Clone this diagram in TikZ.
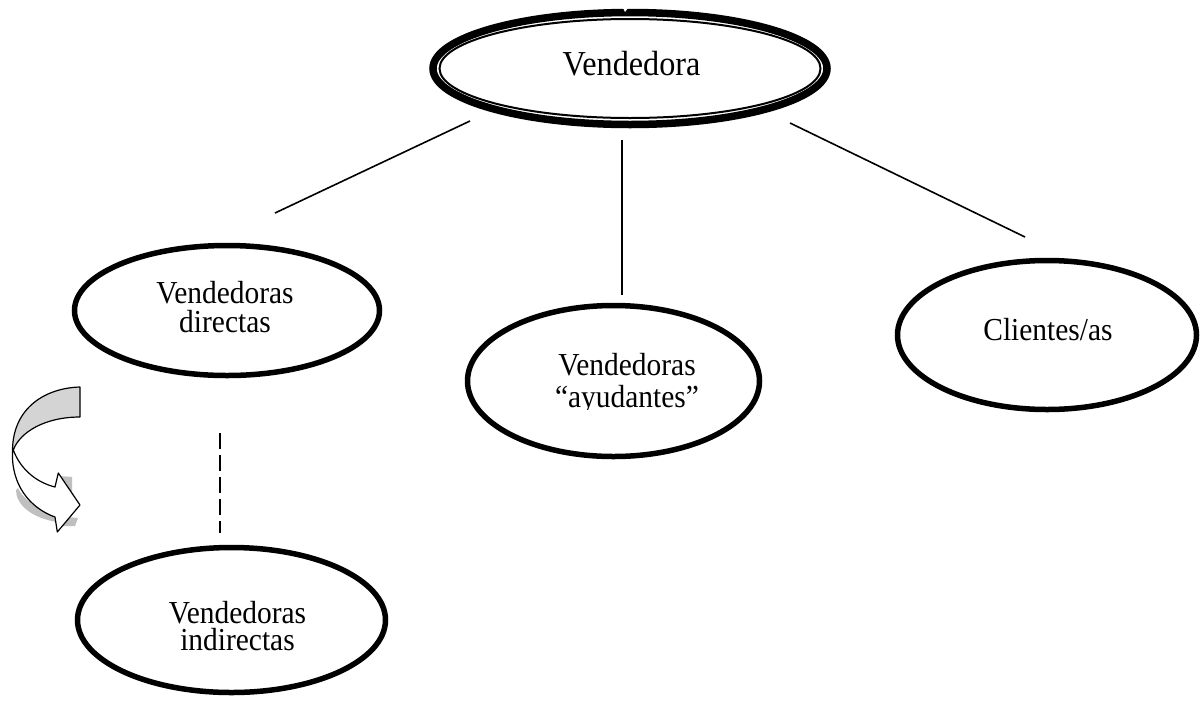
\documentclass[tikz,border=0pt]{standalone}
\usepackage{fontspec}
\setmainfont{Liberation Serif}[FakeStretch=0.92]
\usetikzlibrary{shapes.geometric}
\tikzset{
  oval/.style={draw, ellipse, line width=5.5pt, inner sep=0pt},
  txt/.style={font=\fontsize{32}{29}\selectfont, inner sep=0pt, anchor=base, align=center},
  link/.style={line width=1.6pt},
  dashlink/.style={line width=2pt, dash pattern=on 16pt off 6pt},
  backface/.style={fill=black!17, draw=black, line width=1.2pt, line join=round},
  frontface/.style={fill=white, draw=black, line width=1.2pt, line join=round},
  shade/.style={fill=black!25},
}
\begin{document}
\begin{tikzpicture}[x=1pt,y=-1pt]
\useasboundingbox (0,0) rectangle (1201,702);
\fill[white] (0,0) rectangle (1201,702);

% top node: thick-thin double outline
\node[oval, line width=7.5pt, minimum width=394pt, minimum height=112pt] (top) at (630,68.5) {};
\draw[line width=2pt] (top.center) ellipse [x radius=190.5pt, y radius=49.5pt];
\fill[white] (621,4) -- (631,4) -- (625,12) -- cycle;
\node[txt, font=\fontsize{35}{35}\selectfont] (top-t) at (631.5,75) {Vendedora};

% second level (base anchor = baseline of the last line)
\node[oval, minimum width=305pt, minimum height=130pt] (dir) at (227,310.5) {};
\node[txt] (dir-t) at (225,332) {Vendedoras\\directas};

\node[oval, minimum width=292pt, minimum height=151pt] (ayu) at (613.5,381) {};
\begin{scope}
  \clip (400,300) rectangle (800,409);
  \node[txt, font=\fontsize{32}{32}\selectfont] (ayu-t) at (627,407) {Vendedoras\\“ayudantes”};
\end{scope}

\node[oval, minimum width=299pt, minimum height=149pt] (cli) at (1047,335) {};
\node[txt] (cli-t) at (1048,340) {Clientes/as};

% third level
\node[oval, minimum width=308pt, minimum height=145pt] (ind) at (231.5,620) {};
\node[txt, font=\fontsize{32}{27}\selectfont] (ind-t) at (237.5,650) {Vendedoras\\indirectas};

% connectors
\coordinate (top-l) at (470,121);
\coordinate (dir-u) at (275,213);
\coordinate (top-m) at (622,140);
\coordinate (ayu-u) at (622,295);
\coordinate (top-r) at (790,123);
\coordinate (cli-u) at (1025,237);
\coordinate (dir-d) at (220,433);
\coordinate (ind-u) at (220,533);
\draw[link] (top-l) -- (dir-u);
\draw[link] (top-m) -- (ayu-u);
\draw[link] (top-r) -- (cli-u);
\draw[dashlink] (dir-d) -- (ind-u);

% curved turn-down arrow with its shadow
\fill[shade] (16,490) .. controls (16,505) and (32,518) .. (57,522)
  -- (57,512) .. controls (35,508) and (22,498) .. (18,488) -- cycle;
\fill[shade] (60,476) -- (72,477) -- (72,497) -- (66,497) -- cycle;
\fill[shade] (68,517) -- (78,518) -- (75,526) -- (63,526) -- cycle;
\path[backface] (80,387) .. controls (45,388) and (13,408) .. (12.5,450)
  -- (13.3,450) .. controls (20,432) and (45,417) .. (80,417) -- cycle;
\path[frontface] (13.3,450) .. controls (20,468) and (35,482) .. (55,487)
  -- (58.3,473) -- (80,505) -- (57.3,532) -- (55,517)
  .. controls (30,508) and (11,485) .. (12.5,451) -- cycle;
\end{tikzpicture}
\end{document}
